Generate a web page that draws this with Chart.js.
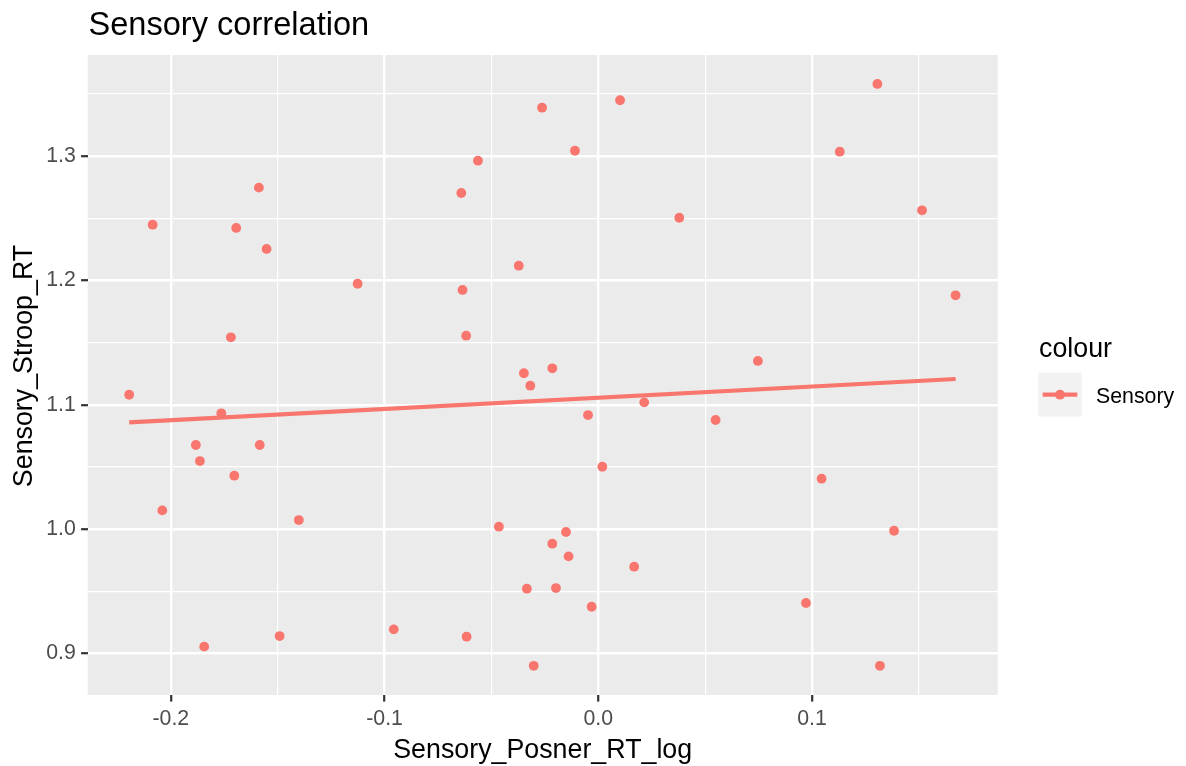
<!DOCTYPE html>
<html>
<head>
<meta charset="utf-8">
<script src="https://cdn.jsdelivr.net/npm/chart.js@4"></script>
<style>
  html, body { margin: 0; padding: 0; background: #fff; }
  #wrap { width: 1186px; height: 766px; }
</style>
</head>
<body>
<div id="wrap"><canvas id="c" width="1186" height="766"></canvas></div>
<script>
// values
const posnerLog = [
  -0.2085, -0.1694, -0.1588, -0.1552, -0.1719, -0.1126, -0.2195, -0.1764, -0.1883,
  -0.1584, -0.1864, -0.1703, -0.2040, -0.1401, -0.1491, -0.1844, -0.0957,
  -0.0263, 0.0102, -0.0109, -0.0563, -0.0641, 0.0379, -0.0372, -0.0635, -0.0618,
  -0.0215, -0.0348, -0.0318, 0.0215, -0.0048, 0.0019, -0.0465, -0.0151, -0.0215,
  -0.0139, 0.0168, -0.0334, -0.0198, -0.0031, -0.0616, -0.0302,
  0.1306, 0.1130, 0.1515, 0.1672, 0.0747, 0.0549, 0.1045, 0.1384, 0.0972, 0.1318
];
const stroopRT = [
  1.2448, 1.2422, 1.2746, 1.2253, 1.1542, 1.1973, 1.1080, 1.0931, 1.0676,
  1.0676, 1.0547, 1.0429, 1.0150, 1.0072, 0.9139, 0.9054, 0.9193,
  1.3389, 1.3449, 1.3043, 1.2963, 1.2703, 1.2504, 1.2118, 1.1923, 1.1555,
  1.1293, 1.1253, 1.1153, 1.1019, 1.0917, 1.0501, 1.0019, 0.9976, 0.9882,
  0.9780, 0.9697, 0.9520, 0.9525, 0.9375, 0.9134, 0.8900,
  1.3580, 1.3035, 1.2564, 1.1880, 1.1352, 1.0877, 1.0405, 0.9986, 0.9405, 0.8900
];
const fitX = [-0.2195, 0.1672];
const fitY = [1.0858, 1.1207];

const xTicks = [-0.2, -0.1, 0.0, 0.1];
const xTickLabels = ["-0.2", "-0.1", "0.0", "0.1"];
const xMinor = [-0.15, -0.05, 0.05, 0.15];
const yTicks = [0.9, 1.0, 1.1, 1.2, 1.3];
const yTickLabels = ["0.9", "1.0", "1.1", "1.2", "1.3"];
const yMinor = [0.95, 1.05, 1.15, 1.25, 1.35];

const RED = "#F8766D";
const FONT = "'Liberation Sans', Arial, sans-serif";

function setTicks(major, minor) {
  return function(scale) {
    const t = major.map(v => ({ value: v, isMinor: false }))
      .concat(minor.map(v => ({ value: v, isMinor: true })));
    t.sort((a, b) => a.value - b.value);
    scale.ticks = t;
  };
}
function labelFor(major, labels) {
  return function(value) {
    const i = major.findIndex(v => Math.abs(v - value) < 1e-9);
    return i >= 0 ? labels[i] : "";
  };
}
const isMinor = ctx => ctx.tick && ctx.tick.isMinor;

const ggDecor = {
  id: "ggDecor",
  beforeDraw(chart) {
    const { ctx, chartArea: a } = chart;
    ctx.save();
    ctx.fillStyle = "#fff";
    ctx.fillRect(0, 0, chart.width, chart.height);
    ctx.fillStyle = "#EBEBEB";
    ctx.fillRect(a.left, a.top, a.right - a.left, a.bottom - a.top);
    ctx.restore();
  },
  afterDraw(chart) {
    const { ctx, chartArea: a } = chart;
    ctx.save();
    ctx.fillStyle = "#000";
    ctx.textBaseline = "alphabetic";

    // plot title
    ctx.font = "32.6px " + FONT;
    ctx.textAlign = "left";
    ctx.fillText("Sensory correlation", 88.5, 35);

    // axis titles
    ctx.font = "26.8px " + FONT;
    ctx.textAlign = "center";
    ctx.fillText("Sensory_Posner_RT_log", (a.left + a.right) / 2, 758);
    ctx.save();
    ctx.translate(32, 366);
    ctx.rotate(-Math.PI / 2);
    ctx.fillText("Sensory_Stroop_RT", 0, 0);
    ctx.restore();

    // legend
    ctx.textAlign = "left";
    ctx.fillText("colour", 1039, 357);
    ctx.fillStyle = "#F2F2F2";
    ctx.fillRect(1038.3, 372.7, 43.4, 44);
    ctx.strokeStyle = RED;
    ctx.lineWidth = 4.2;
    ctx.beginPath();
    ctx.moveTo(1042.7, 394.7);
    ctx.lineTo(1077.3, 394.7);
    ctx.stroke();
    ctx.fillStyle = RED;
    ctx.beginPath();
    ctx.arc(1060, 394.7, 4.9, 0, Math.PI * 2);
    ctx.fill();
    ctx.fillStyle = "#000";
    ctx.font = "21.3px " + FONT;
    ctx.fillText("Sensory", 1096, 403.3);
    ctx.restore();
  }
};

new Chart(document.getElementById("c"), {
  type: "scatter",
  data: {
    datasets: [
      {
        type: "line",
        label: "fit",
        data: fitX.map((x, i) => ({ x: x, y: fitY[i] })),
        borderColor: RED,
        borderWidth: 4.2,
        pointRadius: 0,
        fill: false,
        tension: 0
      },
      {
        label: "Sensory",
        data: posnerLog.map((x, i) => ({ x: x, y: stroopRT[i] })),
        backgroundColor: RED,
        borderWidth: 0,
        pointRadius: 4.9,
        pointHoverRadius: 4.9
      }
    ]
  },
  options: {
    responsive: false,
    animation: false,
    events: [],
    layout: { padding: { top: 55, right: 188.3, left: 0, bottom: 0 } },
    plugins: {
      legend: { display: false },
      title: { display: false },
      tooltip: { enabled: false }
    },
    scales: {
      x: {
        type: "linear",
        min: -0.2389,
        max: 0.1869,
        bounds: "data",
        afterBuildTicks: setTicks(xTicks, xMinor),
        afterFit: s => { s.height = 71; },
        border: { display: false },
        grid: {
          color: "#fff",
          lineWidth: ctx => isMinor(ctx) ? 1.2 : 2.4,
          tickColor: ctx => isMinor(ctx) ? "rgba(0,0,0,0)" : "#333333",
          tickWidth: 2.2,
          tickLength: 6.6
        },
        ticks: {
          autoSkip: false,
          maxRotation: 0,
          padding: 4.5,
          color: "#4D4D4D",
          font: { family: FONT, size: 21.3 },
          callback: labelFor(xTicks, xTickLabels)
        }
      },
      y: {
        type: "linear",
        min: 0.8665,
        max: 1.3813,
        bounds: "data",
        afterBuildTicks: setTicks(yTicks, yMinor),
        afterFit: s => { s.width = 87.7; },
        border: { display: false },
        grid: {
          color: "#fff",
          lineWidth: ctx => isMinor(ctx) ? 1.2 : 2.4,
          tickColor: ctx => isMinor(ctx) ? "rgba(0,0,0,0)" : "#333333",
          tickWidth: 2.2,
          tickLength: 6.6
        },
        ticks: {
          autoSkip: false,
          padding: 5.3,
          color: "#4D4D4D",
          font: { family: FONT, size: 21.3 },
          callback: labelFor(yTicks, yTickLabels)
        }
      }
    }
  },
  plugins: [ggDecor]
});
</script>
</body>
</html>
